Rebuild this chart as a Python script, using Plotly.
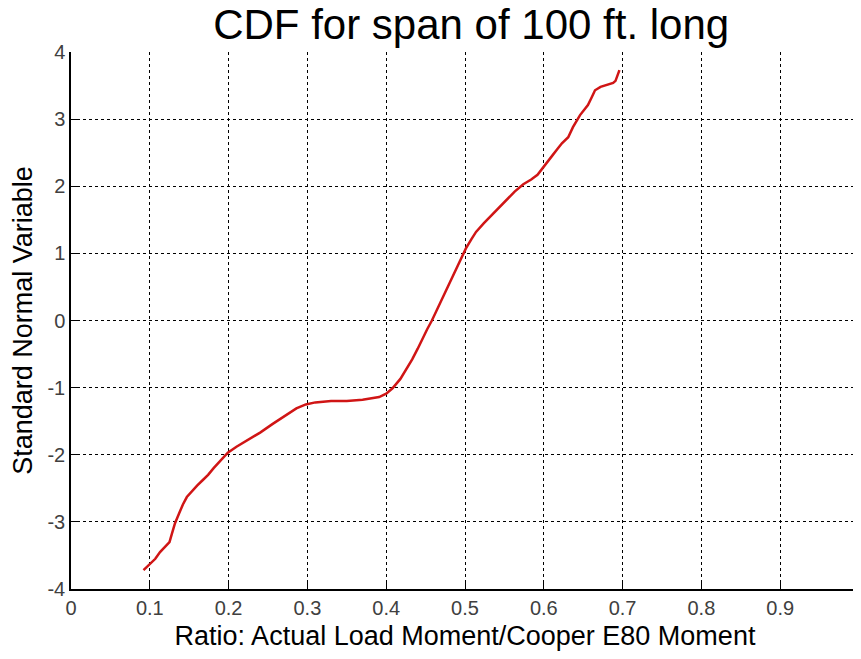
import plotly.graph_objects as go

ratio = [0.092, 0.100, 0.107, 0.113, 0.119, 0.125, 0.128, 0.132, 0.137, 0.142,
         0.147, 0.152, 0.160, 0.167, 0.174, 0.181, 0.190, 0.199, 0.210, 0.223,
         0.240, 0.256, 0.272, 0.286, 0.298, 0.310, 0.330, 0.350, 0.370, 0.391,
         0.400, 0.408, 0.418, 0.426, 0.433, 0.440, 0.446, 0.452, 0.458, 0.464,
         0.470, 0.476, 0.482, 0.489, 0.495, 0.501, 0.508, 0.514, 0.524, 0.533,
         0.543, 0.554, 0.563, 0.574, 0.584, 0.592, 0.602, 0.611, 0.617, 0.623,
         0.631, 0.637, 0.646, 0.652, 0.656, 0.661, 0.665, 0.672, 0.680, 0.688,
         0.691, 0.694, 0.696]
snv = [-3.72, -3.63, -3.55, -3.45, -3.38, -3.30, -3.18, -3.02, -2.88, -2.74,
       -2.63, -2.56, -2.46, -2.38, -2.30, -2.20, -2.08, -1.97, -1.88, -1.79,
       -1.67, -1.54, -1.42, -1.31, -1.25, -1.22, -1.20, -1.20, -1.18, -1.14,
       -1.09, -1.01, -0.87, -0.72, -0.58, -0.42, -0.27, -0.13, 0.00, 0.15,
       0.30, 0.46, 0.61, 0.77, 0.93, 1.07, 1.21, 1.32, 1.45, 1.56,
       1.68, 1.82, 1.92, 2.03, 2.10, 2.17, 2.33, 2.46, 2.55, 2.64,
       2.73, 2.88, 3.06, 3.14, 3.21, 3.33, 3.43, 3.48, 3.51, 3.54,
       3.57, 3.68, 3.73]

x_ticks = [0, 0.1, 0.2, 0.3, 0.4, 0.5, 0.6, 0.7, 0.8, 0.9, 1.0]
x_labels = ["0", "0.1", "0.2", "0.3", "0.4", "0.5", "0.6", "0.7", "0.8", "0.9", "1"]
y_ticks = [-4, -3, -2, -1, 0, 1, 2, 3, 4]
y_labels = ["-4", "-3", "-2", "-1", "0", "1", "2", "3", "4"]

title_text = "CDF for span of 100 ft. long"
x_title = "Ratio: Actual Load Moment/Cooper E80 Moment"
y_title = "Standard Normal Variable"

FONT = "Liberation Sans, Arial, sans-serif"

fig = go.Figure()
fig.add_trace(go.Scatter(x=ratio, y=snv, mode="lines",
                         line=dict(color="#d01515", width=2.5),
                         showlegend=False))

axis_common = dict(
    showgrid=True, gridcolor="#000000", gridwidth=1, griddash="dot",
    showline=True, linecolor="#000000", linewidth=1.5,
    ticks="inside", ticklen=7, tickcolor="#000000", tickwidth=1,
    zeroline=False, ticklabeloverflow="allow", automargin=False,
    tickfont=dict(family=FONT, size=20, color="#404040"),
)

# page body has an 8px default margin, so the figure is sized/shifted to compensate
fig.update_layout(
    width=853, height=651,
    paper_bgcolor="white", plot_bgcolor="white",
    margin=dict(l=63, r=2, t=44, b=70, autoexpand=False),
    title=dict(text=title_text, x=0.543, xanchor="center",
               y=1 - 2 / 651, yanchor="top", yref="container",
               font=dict(family=FONT, size=42, color="#000000")),
    xaxis=dict(range=[0, 1], tickvals=x_ticks, ticktext=x_labels,
               title=dict(text=x_title, standoff=8,
                          font=dict(family=FONT, size=27, color="#000000")),
               **axis_common),
    yaxis=dict(range=[-4, 4], tickvals=y_ticks, ticktext=y_labels,
               title=dict(text=y_title, standoff=12,
                          font=dict(family=FONT, size=27, color="#000000")),
               **axis_common),
)

fig.write_html("out.html")
